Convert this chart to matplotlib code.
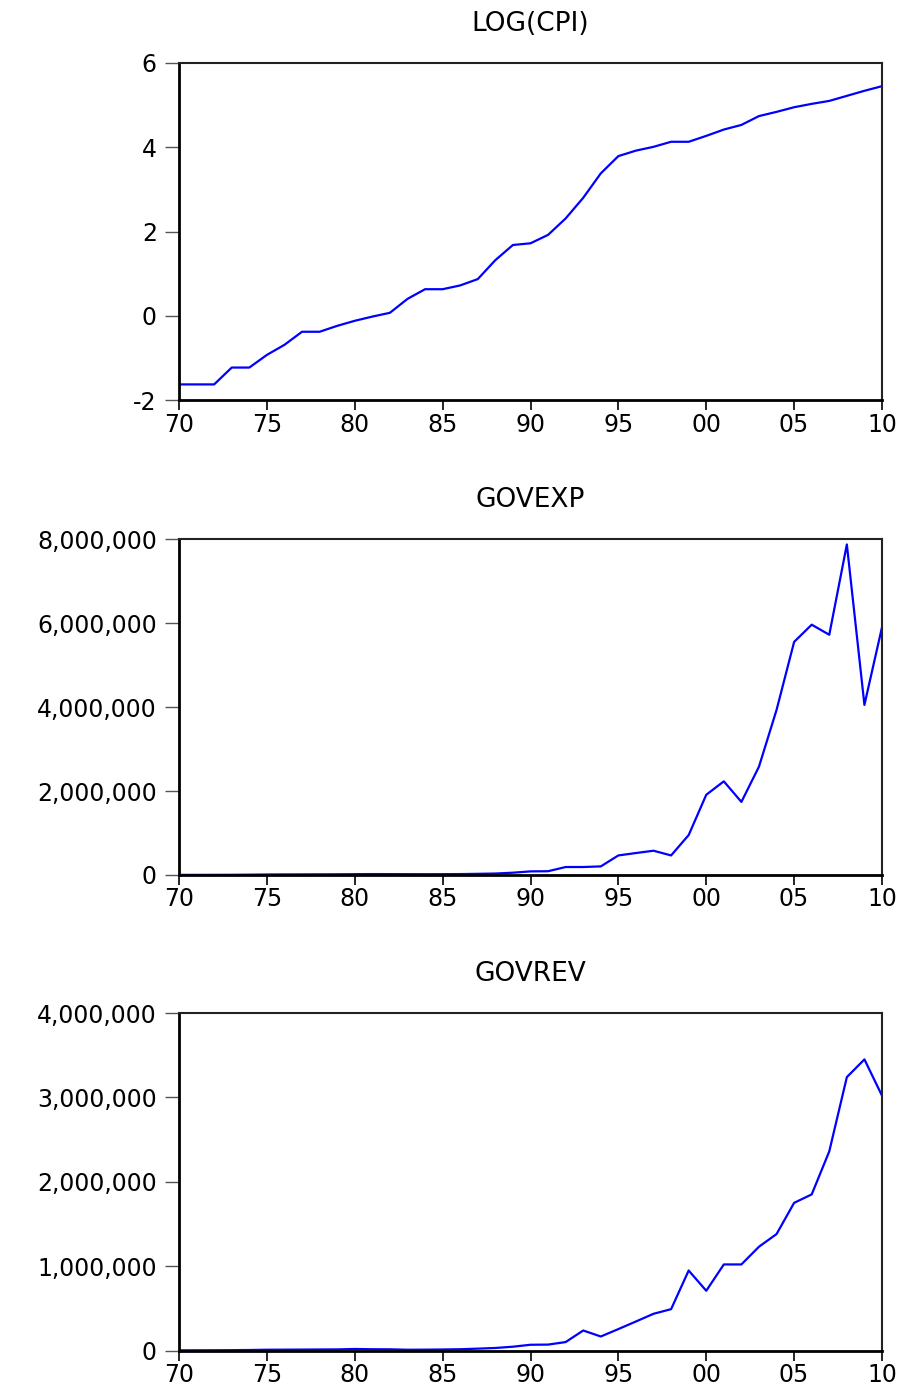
import matplotlib
matplotlib.use("Agg")
import matplotlib.pyplot as plt
from matplotlib.ticker import FuncFormatter, FixedLocator

years = list(range(1970, 2011))

log_cpi = [-1.63, -1.63, -1.63, -1.23, -1.23, -0.93, -0.69, -0.38, -0.38, -0.24,
           -0.12, -0.02, 0.07, 0.40, 0.63, 0.63, 0.72, 0.87, 1.32, 1.68,
           1.72, 1.92, 2.31, 2.80, 3.38, 3.79, 3.92, 4.01, 4.13, 4.13,
           4.27, 4.42, 4.53, 4.74, 4.84, 4.95, 5.03, 5.10, 5.22, 5.34, 5.45]

govexp = [3000, 3500, 4000, 5000, 8000, 12000, 14000, 15000, 16000, 17000,
          20000, 22000, 21000, 20000, 19000, 20000, 22000, 28000, 35000, 55000,
          86000, 90000, 190000, 190000, 205000, 466000, 523000, 578000, 466000, 951000,
          1910000, 2230000, 1740000, 2580000, 3930000, 5550000, 5960000, 5720000, 7870000, 4050000, 5900000]

govrev = [2000, 2500, 3000, 4000, 6000, 9000, 10000, 11000, 12000, 13000,
          18000, 15000, 14000, 9000, 10000, 12000, 15000, 22000, 30000, 45000,
          68000, 70000, 100000, 237000, 166000, 254000, 344000, 435000, 490000, 948000,
          708000, 1020000, 1020000, 1230000, 1380000, 1750000, 1850000, 2360000, 3240000, 3450000, 3020000]

titles = ["LOG(CPI)", "GOVEXP", "GOVREV"]
series = [log_cpi, govexp, govrev]
yticks = [[-2, 0, 2, 4, 6],
          [0, 2000000, 4000000, 6000000, 8000000],
          [0, 1000000, 2000000, 3000000, 4000000]]
xticks = [1970, 1975, 1980, 1985, 1990, 1995, 2000, 2005, 2010]
xticklabels = ["70", "75", "80", "85", "90", "95", "00", "05", "10"]

plt.rcParams['font.family'] = ['DejaVu Sans']

W, H = 905, 1387
fig = plt.figure(figsize=(W / 100, H / 100), dpi=100)

boxes = [(63, 400), (539, 875), (1013, 1350.5)]
left, right = 179, 882

def fmt(v, pos):
    if abs(v) >= 1000:
        return f"{int(v):,}"
    return f"{int(v)}"

for (top, bot), title, ys, yt in zip(boxes, titles, series, yticks):
    ax = fig.add_axes([left / W, 1 - bot / H, (right - left) / W, (bot - top) / H])
    ax.plot(years, ys, color=(0, 0, 1), lw=1.6)
    ax.set_xlim(1970, 2010)
    ax.set_ylim(yt[0], yt[-1])
    ax.yaxis.set_major_locator(FixedLocator(yt))
    ax.yaxis.set_major_formatter(FuncFormatter(fmt))
    ax.set_xticks(xticks)
    ax.set_xticklabels(xticklabels)
    ax.tick_params(axis='x', direction='out', length=7, width=1.2, pad=2,
                   labelsize=17, colors='black')
    ax.tick_params(axis='y', direction='out', length=10, width=1.0, pad=6,
                   labelsize=17, colors='black')
    ax.tick_params(axis='y', color='#555555')
    for side in ['left', 'bottom']:
        ax.spines[side].set_linewidth(2.0)
        ax.spines[side].set_color('black')
    for side in ['top', 'right']:
        ax.spines[side].set_linewidth(1.5)
        ax.spines[side].set_color('#222222')
    ax.set_title(title, fontsize=19, pad=23)

fig.savefig("out.png", dpi=100)
